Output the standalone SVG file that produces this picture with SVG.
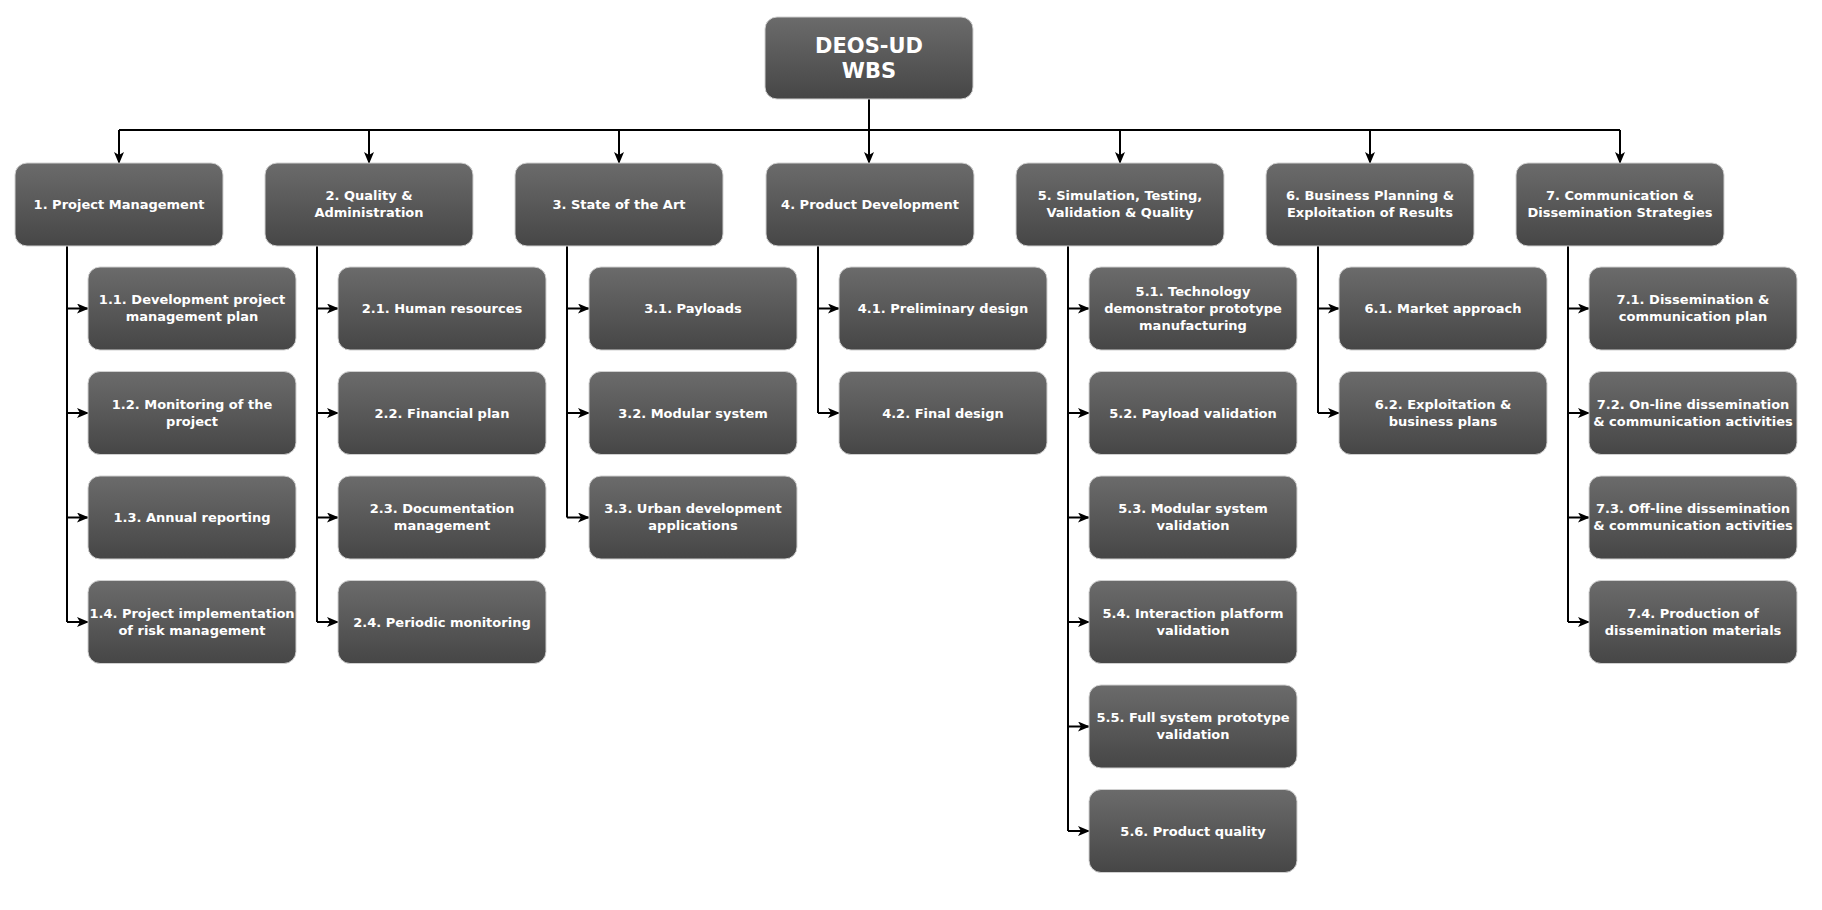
<svg xmlns="http://www.w3.org/2000/svg" width="1822" height="910" viewBox="0 0 1822 910">
<style>
.box{fill:url(#g);stroke:#d0d0d0;stroke-width:1}
.t{font-family:"DejaVu Sans",Verdana,sans-serif;font-weight:bold;font-size:13px;fill:#ffffff;text-anchor:middle}
.tr{font-family:"DejaVu Sans",Verdana,sans-serif;font-weight:bold;font-size:21px;fill:#ffffff;text-anchor:middle}
.c{fill:none;stroke:#000;stroke-width:2}
.a{fill:none;stroke:#000;stroke-width:2;marker-end:url(#ah)}
</style>
<defs>
<linearGradient id="g" x1="0" y1="0" x2="0" y2="1">
<stop offset="0" stop-color="#6b6b6b"/>
<stop offset="1" stop-color="#464646"/>
</linearGradient>
<marker id="ah" markerWidth="12" markerHeight="10" refX="11" refY="5" orient="auto" markerUnits="userSpaceOnUse">
<path d="M0,0 L12,5 L0,10 L3,5 Z" fill="#000"/>
</marker>
</defs>
<rect width="1822" height="910" fill="#fff"/>
<g id="connectors">
<path class="c" d="M869,99 V130 M119,130 H1620"/>
<path class="a" d="M119,130 V163"/>
<path class="a" d="M369,130 V163"/>
<path class="a" d="M619,130 V163"/>
<path class="a" d="M869,130 V163"/>
<path class="a" d="M1120,130 V163"/>
<path class="a" d="M1370,130 V163"/>
<path class="a" d="M1620,130 V163"/>
<path class="c" d="M67,246 V622"/>
<path class="a" d="M67,308.5 H88"/><path class="a" d="M67,413 H88"/><path class="a" d="M67,517.5 H88"/><path class="a" d="M67,622 H88"/>
<path class="c" d="M317,246 V622"/>
<path class="a" d="M317,308.5 H338"/><path class="a" d="M317,413 H338"/><path class="a" d="M317,517.5 H338"/><path class="a" d="M317,622 H338"/>
<path class="c" d="M567,246 V517.5"/>
<path class="a" d="M567,308.5 H589"/><path class="a" d="M567,413 H589"/><path class="a" d="M567,517.5 H589"/>
<path class="c" d="M818,246 V413"/>
<path class="a" d="M818,308.5 H839"/><path class="a" d="M818,413 H839"/>
<path class="c" d="M1068,246 V831"/>
<path class="a" d="M1068,308.5 H1089"/><path class="a" d="M1068,413 H1089"/><path class="a" d="M1068,517.5 H1089"/><path class="a" d="M1068,622 H1089"/><path class="a" d="M1068,726.5 H1089"/><path class="a" d="M1068,831 H1089"/>
<path class="c" d="M1318,246 V413"/>
<path class="a" d="M1318,308.5 H1339"/><path class="a" d="M1318,413 H1339"/>
<path class="c" d="M1568,246 V622"/>
<path class="a" d="M1568,308.5 H1589"/><path class="a" d="M1568,413 H1589"/><path class="a" d="M1568,517.5 H1589"/><path class="a" d="M1568,622 H1589"/>
</g>
<g id="root"><rect class="box" x="765" y="17" width="208" height="82" rx="12"/><text class="tr" x="869" y="53">DEOS-UD</text><text class="tr" x="869" y="78">WBS</text></g>
<g id="n1"><rect class="box" x="15" y="163" width="208" height="83" rx="12"/><text class="t" x="119" y="209">1. Project Management</text></g>
<g id="n2"><rect class="box" x="265" y="163" width="208" height="83" rx="12"/><text class="t" x="369" y="200">2. Quality &amp;</text><text class="t" x="369" y="217">Administration</text></g>
<g id="n3"><rect class="box" x="515" y="163" width="208" height="83" rx="12"/><text class="t" x="619" y="209">3. State of the Art</text></g>
<g id="n4"><rect class="box" x="766" y="163" width="208" height="83" rx="12"/><text class="t" x="870" y="209">4. Product Development</text></g>
<g id="n5"><rect class="box" x="1016" y="163" width="208" height="83" rx="12"/><text class="t" x="1120" y="200">5. Simulation, Testing,</text><text class="t" x="1120" y="217">Validation &amp; Quality</text></g>
<g id="n6"><rect class="box" x="1266" y="163" width="208" height="83" rx="12"/><text class="t" x="1370" y="200">6. Business Planning &amp;</text><text class="t" x="1370" y="217">Exploitation of Results</text></g>
<g id="n7"><rect class="box" x="1516" y="163" width="208" height="83" rx="12"/><text class="t" x="1620" y="200">7. Communication &amp;</text><text class="t" x="1620" y="217">Dissemination Strategies</text></g>

<g id="n1_1"><rect class="box" x="88" y="267" width="208" height="83" rx="12"/><text class="t" x="192" y="304">1.1. Development project</text><text class="t" x="192" y="321">management plan</text></g>
<g id="n1_2"><rect class="box" x="88" y="371.5" width="208" height="83" rx="12"/><text class="t" x="192" y="408.5">1.2. Monitoring of the</text><text class="t" x="192" y="425.5">project</text></g>
<g id="n1_3"><rect class="box" x="88" y="476" width="208" height="83" rx="12"/><text class="t" x="192" y="522">1.3. Annual reporting</text></g>
<g id="n1_4"><rect class="box" x="88" y="580.5" width="208" height="83" rx="12"/><text class="t" x="192" y="617.5">1.4. Project implementation</text><text class="t" x="192" y="634.5">of risk management</text></g>

<g id="n2_1"><rect class="box" x="338" y="267" width="208" height="83" rx="12"/><text class="t" x="442" y="313">2.1. Human resources</text></g>
<g id="n2_2"><rect class="box" x="338" y="371.5" width="208" height="83" rx="12"/><text class="t" x="442" y="417.5">2.2. Financial plan</text></g>
<g id="n2_3"><rect class="box" x="338" y="476" width="208" height="83" rx="12"/><text class="t" x="442" y="513">2.3. Documentation</text><text class="t" x="442" y="530">management</text></g>
<g id="n2_4"><rect class="box" x="338" y="580.5" width="208" height="83" rx="12"/><text class="t" x="442" y="626.5">2.4. Periodic monitoring</text></g>

<g id="n3_1"><rect class="box" x="589" y="267" width="208" height="83" rx="12"/><text class="t" x="693" y="313">3.1. Payloads</text></g>
<g id="n3_2"><rect class="box" x="589" y="371.5" width="208" height="83" rx="12"/><text class="t" x="693" y="417.5">3.2. Modular system</text></g>
<g id="n3_3"><rect class="box" x="589" y="476" width="208" height="83" rx="12"/><text class="t" x="693" y="513">3.3. Urban development</text><text class="t" x="693" y="530">applications</text></g>

<g id="n4_1"><rect class="box" x="839" y="267" width="208" height="83" rx="12"/><text class="t" x="943" y="313">4.1. Preliminary design</text></g>
<g id="n4_2"><rect class="box" x="839" y="371.5" width="208" height="83" rx="12"/><text class="t" x="943" y="417.5">4.2. Final design</text></g>

<g id="n5_1"><rect class="box" x="1089" y="267" width="208" height="83" rx="12"/><text class="t" x="1193" y="295.5">5.1. Technology</text><text class="t" x="1193" y="312.5">demonstrator prototype</text><text class="t" x="1193" y="329.5">manufacturing</text></g>
<g id="n5_2"><rect class="box" x="1089" y="371.5" width="208" height="83" rx="12"/><text class="t" x="1193" y="417.5">5.2. Payload validation</text></g>
<g id="n5_3"><rect class="box" x="1089" y="476" width="208" height="83" rx="12"/><text class="t" x="1193" y="513">5.3. Modular system</text><text class="t" x="1193" y="530">validation</text></g>
<g id="n5_4"><rect class="box" x="1089" y="580.5" width="208" height="83" rx="12"/><text class="t" x="1193" y="617.5">5.4. Interaction platform</text><text class="t" x="1193" y="634.5">validation</text></g>
<g id="n5_5"><rect class="box" x="1089" y="685" width="208" height="83" rx="12"/><text class="t" x="1193" y="722">5.5. Full system prototype</text><text class="t" x="1193" y="739">validation</text></g>
<g id="n5_6"><rect class="box" x="1089" y="789.5" width="208" height="83" rx="12"/><text class="t" x="1193" y="835.5">5.6. Product quality</text></g>

<g id="n6_1"><rect class="box" x="1339" y="267" width="208" height="83" rx="12"/><text class="t" x="1443" y="313">6.1. Market approach</text></g>
<g id="n6_2"><rect class="box" x="1339" y="371.5" width="208" height="83" rx="12"/><text class="t" x="1443" y="408.5">6.2. Exploitation &amp;</text><text class="t" x="1443" y="425.5">business plans</text></g>

<g id="n7_1"><rect class="box" x="1589" y="267" width="208" height="83" rx="12"/><text class="t" x="1693" y="304">7.1. Dissemination &amp;</text><text class="t" x="1693" y="321">communication plan</text></g>
<g id="n7_2"><rect class="box" x="1589" y="371.5" width="208" height="83" rx="12"/><text class="t" x="1693" y="408.5">7.2. On-line dissemination</text><text class="t" x="1693" y="425.5">&amp; communication activities</text></g>
<g id="n7_3"><rect class="box" x="1589" y="476" width="208" height="83" rx="12"/><text class="t" x="1693" y="513">7.3. Off-line dissemination</text><text class="t" x="1693" y="530">&amp; communication activities</text></g>
<g id="n7_4"><rect class="box" x="1589" y="580.5" width="208" height="83" rx="12"/><text class="t" x="1693" y="617.5">7.4. Production of</text><text class="t" x="1693" y="634.5">dissemination materials</text></g>
</svg>
